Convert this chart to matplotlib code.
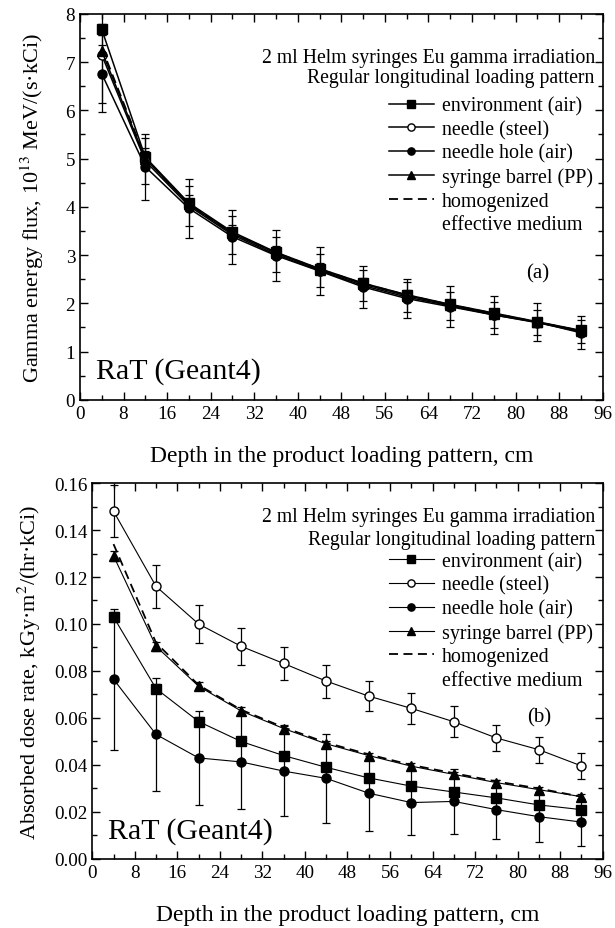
import matplotlib
matplotlib.use("Agg")
import matplotlib.pyplot as plt
from matplotlib.lines import Line2D
from matplotlib.ticker import MultipleLocator, FormatStrFormatter

plt.rcParams['font.family'] = ['Liberation Serif', 'DejaVu Serif']
plt.rcParams['mathtext.fontset'] = 'stix'

depth = [4, 12, 20, 28, 36, 44, 52, 60, 68, 76, 84, 92]
labels = ["environment (air)", "needle (steel)", "needle hole (air)",
          "syringe barrel (PP)", "homogenized", "effective medium"]

# (a) gamma energy flux, 10^13 MeV/(s kCi)
a_env = [7.68, 5.03, 4.08, 3.48, 3.06, 2.72, 2.42, 2.18, 1.98, 1.80, 1.62, 1.44]
a_needle = [7.15, 4.95, 4.02, 3.42, 3.01, 2.68, 2.37, 2.13, 1.95, 1.76, 1.60, 1.41]
a_hole = [6.76, 4.83, 3.97, 3.38, 2.99, 2.67, 2.34, 2.10, 1.93, 1.76, 1.61, 1.39]
a_barrel = [7.23, 5.00, 4.05, 3.45, 3.04, 2.70, 2.40, 2.16, 1.97, 1.78, 1.61, 1.43]
a_homog = [7.30, 5.01, 4.06, 3.46, 3.05, 2.71, 2.41, 2.17, 1.97, 1.79, 1.61, 1.43]
a_env_err = [0.12, 0.20, 0.16, 0.14, 0.12, 0.11, 0.10, 0.09, 0.08, 0.08, 0.07, 0.06]
a_needle_err = [1.00, 0.47, 0.42, 0.40, 0.37, 0.34, 0.32, 0.31, 0.29, 0.27, 0.26, 0.24]
a_hole_err = [0.80, 0.68, 0.61, 0.56, 0.53, 0.49, 0.44, 0.41, 0.42, 0.40, 0.39, 0.34]
a_barrel_err = [0.12, 0.15, 0.12, 0.11, 0.10, 0.09, 0.08, 0.07, 0.07, 0.06, 0.06, 0.05]

# (b) absorbed dose rate, kGy m^2/(hr kCi)
b_env = [0.103, 0.0725, 0.0585, 0.050, 0.044, 0.039, 0.0345, 0.031, 0.0285, 0.026, 0.023, 0.021]
b_needle = [0.148, 0.116, 0.100, 0.0905, 0.0832, 0.0757, 0.0693, 0.0641, 0.0584, 0.0515, 0.0465, 0.0396]
b_hole = [0.0765, 0.053, 0.043, 0.0413, 0.0374, 0.0343, 0.028, 0.024, 0.0245, 0.021, 0.018, 0.0157]
b_barrel = [0.129, 0.0905, 0.0735, 0.063, 0.0555, 0.049, 0.044, 0.0395, 0.036, 0.0325, 0.0295, 0.0265]
b_homog = [0.134, 0.092, 0.074, 0.0635, 0.056, 0.0495, 0.0445, 0.040, 0.0365, 0.033, 0.030, 0.0265]
b_env_err = [0.002, 0.002, 0.002, 0.0015, 0.0015, 0.0015, 0.0012, 0.0012, 0.0012, 0.001, 0.001, 0.001]
b_needle_err = [0.011, 0.009, 0.008, 0.008, 0.007, 0.007, 0.0065, 0.0065, 0.0065, 0.0057, 0.0055, 0.0055]
b_hole_err = [0.030, 0.024, 0.020, 0.020, 0.019, 0.019, 0.016, 0.014, 0.014, 0.0125, 0.0107, 0.010]
b_barrel_err = [0.002, 0.002, 0.0018, 0.0016, 0.0015, 0.0014, 0.0013, 0.0012, 0.0012, 0.001, 0.001, 0.001]


def panel(ax, env, needle, hole, barrel, homog, errs, ylabel, ypad, letter, title_y, leg_y,
          letter_y, lw):
    styles = [(env, 's', 'k'), (needle, 'o', 'white'), (hole, 'o', 'k'), (barrel, '^', 'k')]
    for (vals, m, fc), err in zip(styles, errs):
        ax.errorbar(depth, vals, yerr=err, fmt='none', ecolor='k', elinewidth=0.9,
                    capsize=3.2, capthick=0.9, zorder=2)
    handles = []
    for (vals, m, fc), lab in zip(styles, labels[:4]):
        h, = ax.plot(depth, vals, '-', color='k', lw=lw, marker=m, ms=6.5, mfc=fc,
                     mec='k', mew=1.0, label=lab, zorder=3)
        handles.append(h)
    h, = ax.plot(depth, homog, '--', color='k', lw=1.3, dashes=(5, 3), label=labels[4],
                 zorder=2.5)
    handles.append(h)
    handles.append(Line2D([], [], color='none'))

    ax.set_xlim(0, 96)
    ax.xaxis.set_major_locator(MultipleLocator(8))
    ax.xaxis.set_minor_locator(MultipleLocator(4))
    ax.tick_params(which='both', direction='in', top=True, right=True, labelsize=13.8, width=1)
    ax.tick_params(which='major', length=6)
    ax.tick_params(which='minor', length=3.5)
    ax.set_xlabel("Depth in the product loading pattern, cm", fontsize=17, labelpad=16.5)
    ax.set_ylabel(ylabel, fontsize=16, labelpad=ypad)
    for s in ax.spines.values():
        s.set_linewidth(1.2)

    ax.text(0.985, title_y[0], "2 ml Helm syringes Eu gamma irradiation", transform=ax.transAxes,
            ha='right', va='center', fontsize=14.2)
    ax.text(0.985, title_y[1], "Regular longitudinal loading pattern", transform=ax.transAxes,
            ha='right', va='center', fontsize=14.2)
    ax.text(0.03, 0.075, "RaT (Geant4)", transform=ax.transAxes, ha='left', va='center',
            fontsize=21.5)
    ax.text(0.875, letter_y, letter, transform=ax.transAxes, ha='center', va='center', fontsize=15)
    ax.legend(handles, labels, loc='upper right', bbox_to_anchor=(1.0, leg_y), frameon=False,
              fontsize=14.4, handlelength=2.25, handletextpad=0.4, labelspacing=0.22,
              borderpad=0.0, borderaxespad=0.5, markerscale=0.8)


fig = plt.figure(figsize=(6.15, 9.29), dpi=100)
ax1 = fig.add_axes([0.130, 0.5685, 0.850, 0.4155])
ax2 = fig.add_axes([0.150, 0.0743, 0.830, 0.4047])

panel(ax1, a_env, a_needle, a_hole, a_barrel, a_homog,
      [a_env_err, a_needle_err, a_hole_err, a_barrel_err],
      "Gamma energy flux, 10$^{13}$ MeV/(s\u00b7kCi)", 14, "(a)",
      (0.886, 0.835), 0.812, 0.33, 1.1)
ax1.set_ylim(0, 8)
ax1.yaxis.set_major_locator(MultipleLocator(1))
ax1.yaxis.set_minor_locator(MultipleLocator(0.5))

panel(ax2, b_env, b_needle, b_hole, b_barrel, b_homog,
      [b_env_err, b_needle_err, b_hole_err, b_barrel_err],
      "Absorbed dose rate, kGy\u00b7m$^2$/(hr\u00b7kCi)", 8, "(b)",
      (0.910, 0.851), 0.843, 0.378, 0.8)
ax2.set_ylim(0, 0.16)
ax2.yaxis.set_major_locator(MultipleLocator(0.02))
ax2.yaxis.set_minor_locator(MultipleLocator(0.01))
ax2.yaxis.set_major_formatter(FormatStrFormatter('%.2f'))

fig.savefig("out.png", dpi=100)
